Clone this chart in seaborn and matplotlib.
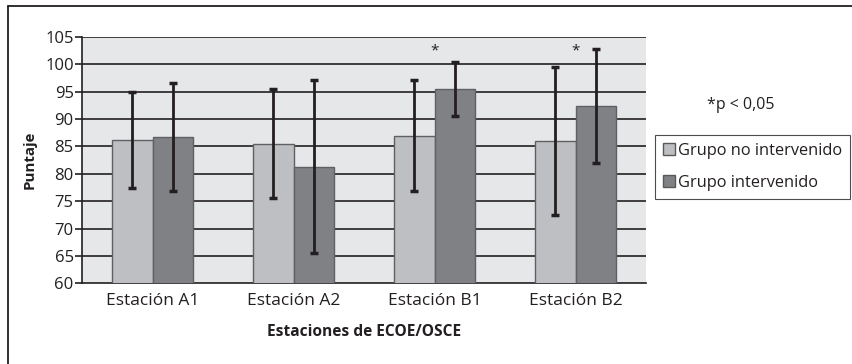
import matplotlib
matplotlib.use("Agg")
import matplotlib.pyplot as plt
import seaborn as sns
import pandas as pd
from matplotlib.lines import Line2D
from matplotlib.patches import Patch

categories = ["Estación A1", "Estación A2", "Estación B1", "Estación B2"]
groups = ["Grupo no intervenido", "Grupo intervenido"]
mean_no = [86.2, 85.5, 87.0, 86.0]
mean_int = [86.8, 81.3, 95.5, 92.4]
sd_no = [8.8, 10.0, 10.1, 13.6]
sd_int = [9.85, 15.8, 4.95, 10.4]
signif = [False, False, True, True]
yticks = [60, 65, 70, 75, 80, 85, 90, 95, 100, 105]

sns.set_theme(style="white")
plt.rcParams['font.family'] = ['Open Sans', 'DejaVu Sans']

df = pd.DataFrame({
    "Estación": categories * 2,
    "Grupo": [groups[0]] * 4 + [groups[1]] * 4,
    "Puntaje": mean_no + mean_int,
})
sds = sd_no + sd_int

fig = plt.figure(figsize=(8.53, 3.64), dpi=100)
ax = fig.add_axes([82/853, 1-283.3/364, (646-82)/853, (283.3-37)/364])
ax.set_facecolor("#e6e7e9")

palette = {groups[0]: "#bebfc2", groups[1]: "#808184"}
sns.barplot(data=df, x="Estación", y="Puntaje", hue="Grupo", order=categories,
            hue_order=groups, palette=palette, width=0.58, errorbar=None,
            edgecolor="#5f6062", linewidth=1.0, ax=ax, zorder=3, legend=False,
            saturation=1)

patches = [p for p in ax.patches if p.get_height() != 0]
centers = [p.get_x() + p.get_width()/2 for p in patches]
heights = [p.get_height() for p in patches]
ax.errorbar(centers, heights, yerr=sds, fmt="none", ecolor="#231f20",
            elinewidth=2.0, capsize=3.2, capthick=2.5, zorder=4)

ax.set_ylim(60, 105)
ax.set_yticks(yticks)
ax.set_xlim(-0.5, 3.5)
for y in yticks[1:]:
    ax.axhline(y, color="#231f20", lw=1.2, zorder=1)

for i, s in enumerate(signif):
    if s:
        ax.text(i, 102.4, "*", ha="center", va="center", fontsize=11,
                color="#231f20", zorder=5)

for sp in ["top", "right"]:
    ax.spines[sp].set_visible(False)
for sp in ["left", "bottom"]:
    ax.spines[sp].set_color("#231f20")
    ax.spines[sp].set_linewidth(1.2)

ax.set_xticks(range(4))
ax.set_xticklabels(categories, fontsize=12.5, color="#231f20")
ax.set_xticks([-0.5, 0.5, 1.5, 2.5, 3.5], minor=True)
ax.tick_params(axis="x", which="major", length=0, pad=7)
ax.tick_params(axis="x", which="minor", length=5, width=1.2, color="#231f20", direction="out")
ax.tick_params(axis="y", length=5, width=1.2, color="#231f20", labelsize=12,
               labelcolor="#231f20", left=True, direction="out", pad=1)

ax.set_xlabel("Estaciones de ECOE/OSCE", fontsize=11.2, fontweight="bold",
              color="#231f20", labelpad=11)
ax.set_ylabel("Puntaje", fontsize=10.8, fontweight="bold", color="#231f20", labelpad=6)

handles = [Patch(facecolor=palette[g], edgecolor="#58595b", label=g) for g in groups]
leg = fig.legend(handles=handles, loc="upper left", bbox_to_anchor=(655/853, 1-135/364),
                 frameon=True, fancybox=False, fontsize=11.8, handlelength=0.75,
                 handleheight=0.75, handletextpad=0.15, borderpad=0.5, labelspacing=0.95,
                 borderaxespad=0)
leg.get_frame().set_edgecolor("#231f20")
leg.get_frame().set_linewidth(0.8)
for t in leg.get_texts():
    t.set_color("#231f20")

fig.text(741/853, 1-105/364, "*p < 0,05", ha="center", va="center", fontsize=11.5,
         color="#231f20")

fig.add_artist(Line2D([8/853, 1.0], [1-6/364, 1-6/364], color="#231f20", lw=1.3,
                      transform=fig.transFigure))
fig.add_artist(Line2D([8/853, 8/853], [0, 1-6/364], color="#231f20", lw=1.3,
                      transform=fig.transFigure))

fig.savefig("out.png", dpi=100)
